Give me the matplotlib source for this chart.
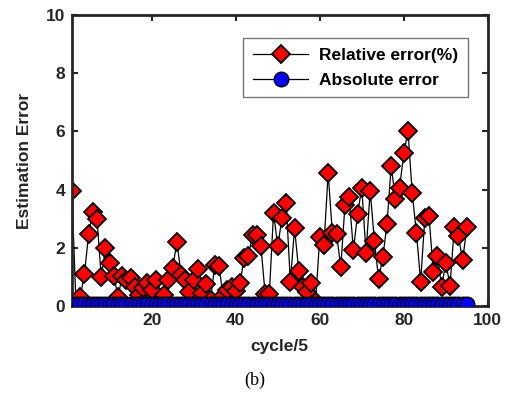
import numpy as np
import matplotlib.pyplot as plt

# cycle index (cycle/5)
cycles = list(range(1, 96))

# relative error (%)
relative_error = [
    3.96, 0.05, 0.32, 1.10, 2.47, 3.24, 2.99, 0.99, 1.98, 1.49,
    1.03, 0.32, 1.03, 0.89, 0.95, 0.64, 0.38, 0.61, 0.78, 0.55,
    0.89, 0.20, 0.38, 0.89, 1.30, 2.21, 1.07, 0.89, 0.49, 0.89,
    1.26, 0.46, 0.76, 0.20, 1.41, 1.38, 0.35, 0.55, 0.65, 0.50,
    0.78, 1.64, 1.72, 2.44, 2.44, 2.06, 0.41, 0.41, 3.21, 2.06,
    3.01, 3.55, 0.84, 2.67, 1.21, 0.66, 0.49, 0.80, 0.15, 2.36,
    2.10, 4.58, 2.50, 2.47, 1.33, 3.47, 3.73, 1.92, 3.16, 4.07,
    1.83, 3.96, 2.24, 0.93, 1.67, 2.82, 4.81, 3.67, 4.07, 5.25,
    6.02, 3.87, 2.52, 0.84, 3.01, 3.09, 1.18, 1.72, 0.66, 1.49,
    0.69, 2.70, 2.40, 1.58, 2.70,
]

# absolute error, essentially flat near zero
absolute_error = [0.06] * 95

plt.rcParams['font.family'] = ['Liberation Sans', 'DejaVu Sans']
plt.rcParams['font.weight'] = 'bold'

fig = plt.figure(figsize=(5.13, 4.0), dpi=100)
ax = fig.add_axes([0.140, 0.235, 0.811, 0.7275])

ax.plot(cycles, relative_error, color='black', linewidth=0.9,
        marker='D', markersize=9.5, markerfacecolor='red',
        markeredgecolor='black', markeredgewidth=1.3,
        label='Relative error(%)', zorder=2)
ax.plot(cycles, absolute_error, color='black', linewidth=0.9,
        marker='o', markersize=10.5, markerfacecolor='blue',
        markeredgecolor='black', markeredgewidth=1.0,
        label='Absolute error', zorder=3)

ax.set_xlim(1, 100)
ax.set_ylim(0, 10)
ax.set_xticks([20, 40, 60, 80, 100])
ax.set_yticks([0, 2, 4, 6, 8, 10])

axis_color = '#262626'
for side in ax.spines.values():
    side.set_linewidth(2)
    side.set_color(axis_color)
ax.tick_params(direction='in', length=4, width=1.5, colors=axis_color,
               top=True, right=True, labelsize=12.5, pad=5)
for lab in ax.get_xticklabels() + ax.get_yticklabels():
    lab.set_fontweight('bold')

ax.set_xlabel('cycle/5', fontsize=12.5, fontweight='bold', color=axis_color, labelpad=8)
ax.set_ylabel('Estimation Error', fontsize=12.5, fontweight='bold', color=axis_color, labelpad=10)

leg = ax.legend(loc='upper right', bbox_to_anchor=(0.972, 0.95),
                frameon=True, fancybox=False,
                handlelength=3.2, handletextpad=0.6, borderpad=0.55,
                labelspacing=0.55, prop={'weight': 'bold', 'size': 12.5})
leg.get_frame().set_edgecolor('#555555')
leg.get_frame().set_linewidth(1.0)

fig.text(0.497, 0.05, '(b)', fontsize=13, family='Liberation Serif',
         fontweight='normal', ha='center', va='center')

fig.savefig('out.png', dpi=100)
